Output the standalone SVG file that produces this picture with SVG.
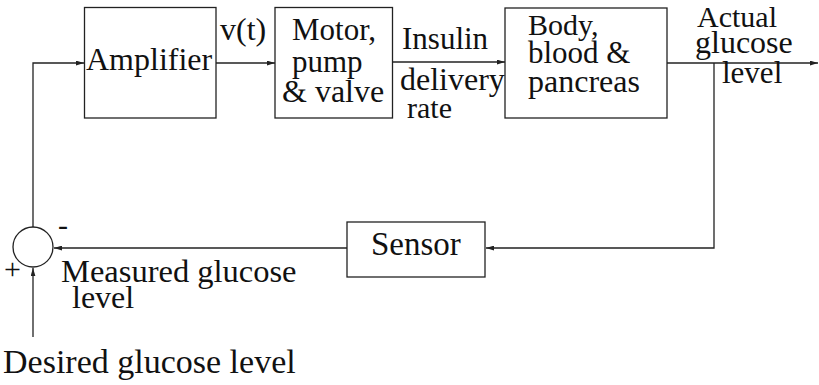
<svg xmlns="http://www.w3.org/2000/svg" width="819" height="385" viewBox="0 0 819 385">
<style>
.box{fill:none;stroke:#222;stroke-width:1.3}
.arr{fill:none;stroke:#222;stroke-width:1.3;marker-end:url(#ah)}
</style>
<defs>
<marker id="ah" viewBox="0 0 10 6" refX="10" refY="3" markerWidth="8" markerHeight="5" markerUnits="userSpaceOnUse" orient="auto">
<path d="M0,0 L10,3 L0,6 Z" fill="#222"/>
</marker>
</defs>
<rect width="819" height="385" fill="#fff"/>
<g id="connectors">
<polyline class="arr" points="33,227 33,63 84,63"/>
<line class="arr" x1="216" y1="63" x2="275" y2="63"/>
<line class="arr" x1="393" y1="62" x2="505" y2="62"/>
<line class="arr" x1="667" y1="63" x2="818" y2="63"/>
<polyline class="arr" points="714,63 714,248 486,248"/>
<line class="arr" x1="347" y1="248" x2="54" y2="248"/>
<line class="arr" x1="33" y1="337" x2="33" y2="268"/>
</g>
<g font-family="Liberation Serif" font-size="31" fill="#111">
<g id="amplifier">
<rect class="box" x="84.5" y="7.5" width="131.5" height="110.5"/>
<text x="86" y="70" font-size="32">Amplifier</text>
</g>
<g id="motor">
<rect class="box" x="275" y="7.5" width="117.5" height="110.5"/>
<text x="292" y="40">Motor,</text>
<text x="292" y="72">pump</text>
<text x="282" y="102" font-size="32">&amp; valve</text>
</g>
<g id="body">
<rect class="box" x="505" y="8" width="162" height="110"/>
<text x="528" y="35" font-size="30">Body,</text>
<text x="528" y="63">blood &amp;</text>
<text x="528" y="92" font-size="32">pancreas</text>
</g>
<g id="sensor">
<rect class="box" x="347" y="222" width="138" height="55"/>
<text x="371" y="255" font-size="33">Sensor</text>
</g>
<g id="sum">
<circle class="box" cx="33" cy="247" r="20"/>
<text x="58" y="235" font-size="30">-</text>
<text x="4" y="279" font-size="30">+</text>
</g>
<g id="labels">
<text x="220" y="40" font-size="32">v(t)</text>
<text x="402" y="49">Insulin</text>
<text x="400" y="90" font-size="32">delivery</text>
<text x="407" y="118" font-size="30">rate</text>
<text x="697" y="27" font-size="30">Actual</text>
<text x="695" y="53" font-size="32">glucose</text>
<text x="722" y="83">level</text>
<text x="61" y="282" font-size="32.5">Measured glucose</text>
<text x="72" y="308" font-size="32">level</text>
<text x="3" y="373" font-size="34">Desired glucose level</text>
</g>
</g>
</svg>
